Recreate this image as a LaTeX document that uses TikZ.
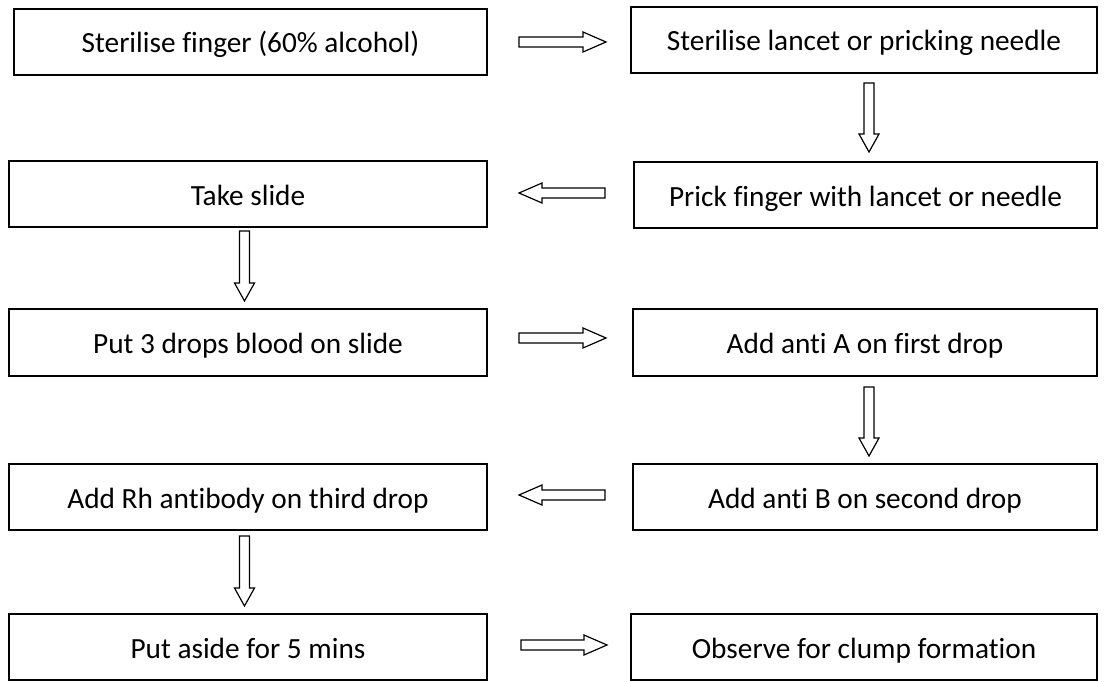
\documentclass[tikz,border=0pt]{standalone}
\usepackage{fontspec}
\setmainfont{Carlito}[Ligatures=NoCommon]
\usetikzlibrary{calc}
\newcommand\blockarr[3]{%
  \coordinate (bahead) at ($(#2)!#3!(#1)$);
  \draw[blockarrow] ($(#1)!5pt!90:(#2)$) -- ($(bahead)!5pt!90:(#2)$) -- ($(bahead)!10pt!90:(#2)$) -- (#2)
    -- ($(bahead)!10pt!-90:(#2)$) -- ($(bahead)!5pt!-90:(#2)$) -- ($(#1)!5pt!-90:(#2)$) -- cycle;}
\begin{document}
\begin{tikzpicture}[x=1pt,y=-1pt,
  stepbox/.style={draw=black, line width=1.6pt, inner sep=0pt, text height=22pt, text depth=0pt,
    font=\fontsize{29.3}{35}\selectfont, minimum height=66pt},
  blockarrow/.style={draw=black, line width=1.2pt, fill=white, line join=miter}]
\useasboundingbox (0,0) rectangle (1106,682);
% boxes
\node[stepbox, minimum width=473pt] (l1) at (250.5,42) {Sterilise finger (60\% alcohol)};
\node[stepbox, minimum width=466pt] (r1) at (864,40) {Sterilise lancet or pricking needle};
\node[stepbox, minimum width=463pt] (r2) at (865.5,195) {Prick finger with lancet or needle};
\node[stepbox, minimum width=478pt] (l2) at (248,194) {Take slide};
\node[stepbox, minimum width=478pt, minimum height=67pt] (l3) at (248,342.5) {Put 3 drops blood on slide};
\node[stepbox, minimum width=464pt, minimum height=67pt] (r3) at (865,342.5) {Add anti A on first drop};
\node[stepbox, minimum width=464pt] (r4) at (865,497) {Add anti B on second drop};
\node[stepbox, minimum width=478pt] (l4) at (248,497) {Add Rh antibody on third drop};
\node[stepbox, minimum width=478pt] (l5) at (248,647) {Put aside for 5 mins};
\node[stepbox, minimum width=466pt] (r5) at (864,647) {Observe for clump formation};
% arrow end points
\coordinate (h1s) at (519,42);    \coordinate (h1e) at (606,42);
\coordinate (v1s) at (869,83);    \coordinate (v1e) at (869,152);
\coordinate (h2s) at (605,193);   \coordinate (h2e) at (519,193);
\coordinate (v2s) at (244.5,231); \coordinate (v2e) at (244.5,301);
\coordinate (h3s) at (519,338);   \coordinate (h3e) at (606,338);
\coordinate (v3s) at (869,387);   \coordinate (v3e) at (869,456);
\coordinate (h4s) at (605,495);   \coordinate (h4e) at (519,495);
\coordinate (v4s) at (244.5,536); \coordinate (v4e) at (244.5,606);
\coordinate (h5s) at (521,645);   \coordinate (h5e) at (607,645);
% block arrows
\blockarr{h1s}{h1e}{23pt}
\blockarr{v1s}{v1e}{18pt}
\blockarr{h2s}{h2e}{23pt}
\blockarr{v2s}{v2e}{18pt}
\blockarr{h3s}{h3e}{23pt}
\blockarr{v3s}{v3e}{18pt}
\blockarr{h4s}{h4e}{23pt}
\blockarr{v4s}{v4e}{18pt}
\blockarr{h5s}{h5e}{23pt}
\end{tikzpicture}
\end{document}
